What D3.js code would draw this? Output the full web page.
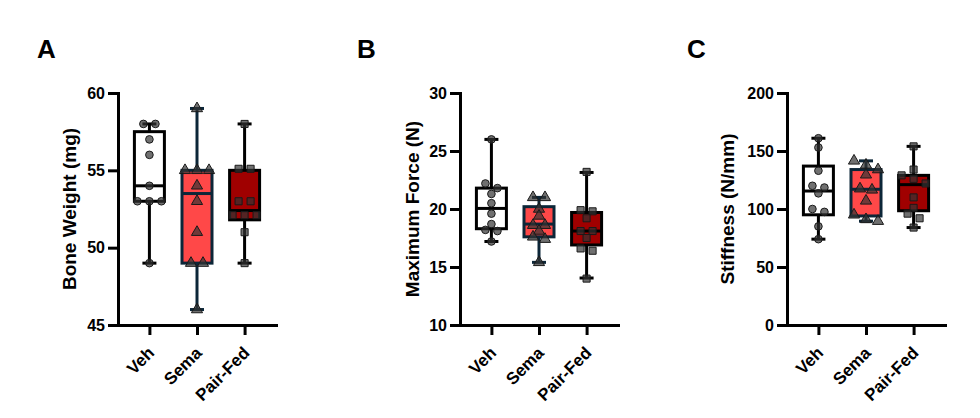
<!DOCTYPE html>
<html>
<head>
<meta charset="utf-8">
<script src="https://cdn.jsdelivr.net/npm/d3@7"></script>
<style>
  body { margin: 0; background: #fff; }
  svg text { font-family: Arial, "Liberation Sans", sans-serif; font-weight: bold; fill: #000; }
</style>
</head>
<body>
<svg id="chart" width="980" height="418"></svg>
<script>
// groups and axis setup
const groups = ["Veh", "Sema", "Pair-Fed"];
const panelLetters = ["A", "B", "C"];
const yLabels = ["Bone Weight  (mg)", "Maximum Force (N)", "Stiffness (N/mm)"];
const yDomains = [[45, 60], [10, 30], [0, 200]];
const yTicks = [[45, 50, 55, 60], [10, 15, 20, 25, 30], [0, 50, 100, 150, 200]];

// individual animals, per group (Veh, Sema, Pair-Fed)
const boneWeight = [
  [58, 58, 57, 56, 54, 53, 53, 53, 49],
  [59, 55, 55, 55, 54, 53, 51, 49, 49, 46],
  [58, 55.1, 55.1, 53, 53, 52.1, 52.1, 52.1, 51, 49]
];
const maxForce = [
  [26, 22.2, 21.8, 21.3, 20.5, 19.6, 18.7, 18.2, 18.1, 17.2],
  [21, 21, 20, 19.4, 18.6, 18.6, 18.1, 17.6, 17.4, 15.4],
  [23.2, 19.9, 19.8, 19.2, 18.1, 18.1, 17.5, 16.6, 16.4, 14.0]
];
const stiffness = [
  [161, 153, 133, 120, 118.5, 113.5, 100, 97.5, 85, 74],
  [141.5, 138, 134, 129.5, 117.5, 116.5, 107, 95, 91, 89.5],
  [154, 134, 129, 126, 122, 110, 101, 96, 92, 84]
];

// box summaries: [min, q1, median, q3, max]
const boneWeightBox = [
  [49, 53, 54, 57.5, 58],
  [46, 49, 53.5, 55, 59],
  [49, 51.8, 52.4, 55, 58]
];
const maxForceBox = [
  [17.2, 18.3, 20.05, 21.8, 26],
  [15.4, 17.6, 18.7, 20.2, 21],
  [14.05, 16.9, 18.1, 19.7, 23.15]
];
const stiffnessBox = [
  [74, 95, 115.5, 137, 161],
  [89.5, 94, 117, 134, 141.5],
  [84, 98.5, 121, 129, 154]
];

const panelPoints = [boneWeight, maxForce, stiffness];
const panelBoxes = [boneWeightBox, maxForceBox, stiffnessBox];

const boxFill = ["#ffffff", "#ff4848", "#a00000"];
const boxStroke = ["#000000", "#0c2638", "#000000"];
const symbols = [d3.symbolCircle, d3.symbolTriangle, d3.symbolSquare];
const symbolSizes = [46, 54, 50];

// layout
const axisX = [118, 460, 787];
const letterX = [37, 357, 687];
const yLabelX = [69, 412, 727];
const plotTop = 93, plotBottom = 325, axisLen = 158;
const boxW = 30, capW = 14, spread = 12;

const svg = d3.select("#chart");

// spread points that sit on top of each other (chains closer than 5px)
function offsets(vals, y) {
  const idx = vals.map((v, i) => i).sort((a, b) => vals[b] - vals[a]);
  const out = new Array(vals.length).fill(0);
  let cluster = [idx[0]];
  const flush = () => {
    const k = cluster.length;
    cluster.forEach((j, n) => { out[j] = (n - (k - 1) / 2) * spread; });
  };
  for (let n = 1; n < idx.length; n++) {
    const prev = idx[n - 1], cur = idx[n];
    if (Math.abs(y(vals[prev]) - y(vals[cur])) < 5) cluster.push(cur);
    else { flush(); cluster = [cur]; }
  }
  flush();
  return out;
}

panelLetters.forEach((letter, p) => {
  const g = svg.append("g").attr("transform", `translate(${axisX[p]},0)`);

  const y = d3.scaleLinear().domain(yDomains[p]).range([plotBottom, plotTop]);
  const x = d3.scalePoint().domain(groups).range([0, axisLen]).padding(0.66);

  svg.append("text")
    .attr("x", letterX[p]).attr("y", 58)
    .style("font-size", "26px")
    .text(letter);

  // y axis
  const yAx = g.append("g")
    .call(d3.axisLeft(y).tickValues(yTicks[p]).tickSize(10).tickSizeOuter(0).tickPadding(3));
  yAx.select(".domain").attr("stroke-width", 3).attr("stroke-linecap", "square");
  yAx.selectAll(".tick line").attr("stroke-width", 3);
  yAx.selectAll(".tick text").style("font-size", "16px").attr("font-family", null);

  // x axis
  const xAx = g.append("g")
    .attr("transform", `translate(0,${plotBottom})`)
    .call(d3.axisBottom(x).tickSize(10).tickSizeOuter(0).tickFormat(""));
  xAx.select(".domain").attr("stroke-width", 3).attr("stroke-linecap", "square");
  xAx.selectAll(".tick line").attr("stroke-width", 3);

  g.selectAll("text.cat")
    .data(groups)
    .join("text")
    .attr("class", "cat")
    .attr("text-anchor", "end")
    .attr("transform", d => `translate(${x(d) + 6},${plotBottom + 29}) rotate(-45)`)
    .style("font-size", "17px")
    .text(d => d);

  svg.append("text")
    .attr("text-anchor", "middle")
    .attr("transform", `translate(${yLabelX[p]},${(plotTop + plotBottom) / 2}) rotate(-90)`)
    .attr("dy", "0.35em")
    .style("font-size", "19px")
    .text(yLabels[p]);

  // boxes and whiskers
  panelBoxes[p].forEach((b, i) => {
    const cx = x(groups[i]);
    const bg = g.append("g").attr("stroke", boxStroke[i]).attr("stroke-width", 3);
    bg.append("line").attr("x1", cx).attr("x2", cx).attr("y1", y(b[0])).attr("y2", y(b[4]));
    bg.append("line").attr("x1", cx - capW / 2).attr("x2", cx + capW / 2).attr("y1", y(b[0])).attr("y2", y(b[0]));
    bg.append("line").attr("x1", cx - capW / 2).attr("x2", cx + capW / 2).attr("y1", y(b[4])).attr("y2", y(b[4]));
    bg.append("rect")
      .attr("x", cx - boxW / 2).attr("width", boxW)
      .attr("y", y(b[3])).attr("height", y(b[1]) - y(b[3]))
      .attr("fill", boxFill[i]);
    bg.append("line").attr("x1", cx - boxW / 2).attr("x2", cx + boxW / 2).attr("y1", y(b[2])).attr("y2", y(b[2]));
  });

  // points
  panelPoints[p].forEach((vals, i) => {
    const cx = x(groups[i]);
    const off = offsets(vals, y);
    g.selectAll(null)
      .data(vals)
      .join("path")
      .attr("d", d3.symbol(symbols[i], symbolSizes[i]))
      .attr("transform", (d, j) => `translate(${cx + off[j]},${y(d)})`)
      .attr("fill", "#333")
      .attr("fill-opacity", 0.7)
      .attr("stroke", "#1a1a1a")
      .attr("stroke-width", 1);
  });
});
</script>
</body>
</html>
